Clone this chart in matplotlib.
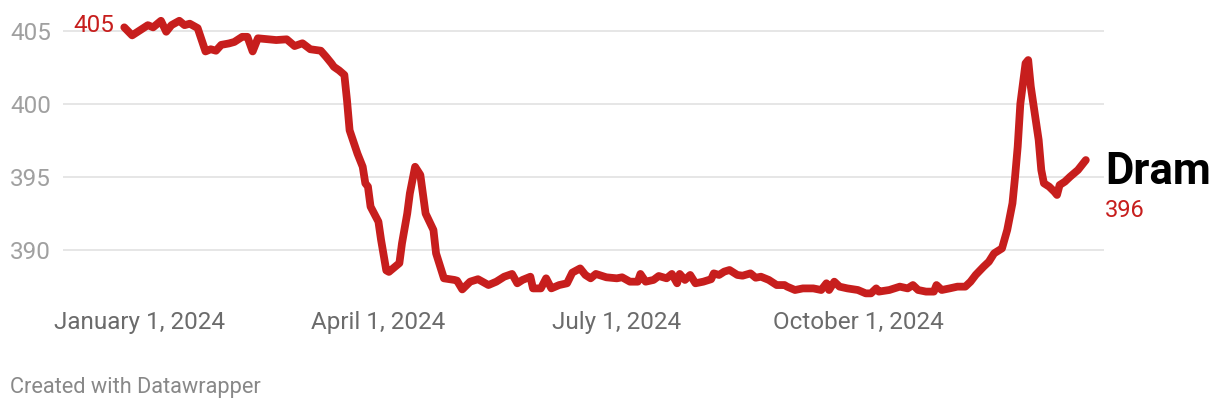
import matplotlib.pyplot as plt
import pandas as pd

# Dram exchange rate readings (date, value)
dates = [
    "2023-12-26", "2023-12-29", "2024-01-04", "2024-01-06", "2024-01-09", "2024-01-11",
    "2024-01-13", "2024-01-16", "2024-01-18", "2024-01-20", "2024-01-23", "2024-01-26",
    "2024-01-28", "2024-01-30", "2024-02-01", "2024-02-04", "2024-02-06", "2024-02-09",
    "2024-02-11", "2024-02-13", "2024-02-15", "2024-02-19", "2024-02-22", "2024-02-26",
    "2024-02-29", "2024-03-03", "2024-03-06", "2024-03-10", "2024-03-12", "2024-03-14",
    "2024-03-15", "2024-03-17", "2024-03-19", "2024-03-20", "2024-03-21", "2024-03-24",
    "2024-03-26", "2024-03-27", "2024-03-28", "2024-03-29", "2024-04-01", "2024-04-02",
    "2024-04-04", "2024-04-05", "2024-04-09", "2024-04-10", "2024-04-12", "2024-04-13",
    "2024-04-15", "2024-04-17", "2024-04-19", "2024-04-22", "2024-04-23", "2024-04-26",
    "2024-04-30", "2024-05-01", "2024-05-03", "2024-05-06", "2024-05-09", "2024-05-13",
    "2024-05-16", "2024-05-19", "2024-05-22", "2024-05-24", "2024-05-26", "2024-05-29",
    "2024-05-30", "2024-06-02", "2024-06-04", "2024-06-06", "2024-06-09", "2024-06-12",
    "2024-06-14", "2024-06-17", "2024-06-19", "2024-06-21", "2024-06-23", "2024-06-27",
    "2024-07-01", "2024-07-03", "2024-07-06", "2024-07-09", "2024-07-10", "2024-07-12",
    "2024-07-15", "2024-07-17", "2024-07-20", "2024-07-22", "2024-07-24", "2024-07-25",
    "2024-07-27", "2024-07-29", "2024-07-31", "2024-08-03", "2024-08-06", "2024-08-07",
    "2024-08-09", "2024-08-11", "2024-08-13", "2024-08-16", "2024-08-18", "2024-08-21",
    "2024-08-23", "2024-08-25", "2024-08-28", "2024-08-31", "2024-09-03", "2024-09-04",
    "2024-09-07", "2024-09-10", "2024-09-14", "2024-09-17", "2024-09-19", "2024-09-20",
    "2024-09-22", "2024-09-24", "2024-09-27", "2024-10-01", "2024-10-04", "2024-10-06",
    "2024-10-08", "2024-10-09", "2024-10-13", "2024-10-17", "2024-10-20", "2024-10-22",
    "2024-10-24", "2024-10-27", "2024-10-30", "2024-10-31", "2024-11-02", "2024-11-05",
    "2024-11-08", "2024-11-11", "2024-11-13", "2024-11-15", "2024-11-18", "2024-11-20",
    "2024-11-22", "2024-11-25", "2024-11-27", "2024-11-29", "2024-11-30", "2024-12-01",
    "2024-12-02", "2024-12-04", "2024-12-05", "2024-12-06", "2024-12-09", "2024-12-10",
    "2024-12-11", "2024-12-13", "2024-12-15", "2024-12-16", "2024-12-17", "2024-12-19",
    "2024-12-21", "2024-12-24", "2024-12-27",
]
values = [
    405.25, 404.7, 405.4, 405.25, 405.7, 404.95,
    405.4, 405.7, 405.4, 405.5, 405.2, 403.6,
    403.75, 403.65, 404.05, 404.15, 404.25, 404.6,
    404.6, 403.6, 404.5, 404.43, 404.38, 404.43,
    403.97, 404.16, 403.75, 403.65, 403.24, 402.8,
    402.55, 402.3, 401.99, 400.27, 398.2, 396.6,
    395.7, 394.57, 394.34, 392.97, 391.94, 390.7,
    388.6, 388.5, 389.1, 390.46, 392.5, 393.88,
    395.7, 395.14, 392.5, 391.37, 389.77, 388.06,
    387.95, 387.9, 387.3, 387.83, 388.0, 387.6,
    387.83, 388.17, 388.36, 387.72, 387.95, 388.17,
    387.37, 387.37, 388.06, 387.37, 387.6, 387.72,
    388.45, 388.74, 388.29, 388.06, 388.36, 388.13,
    388.06, 388.13, 387.83, 387.83, 388.36, 387.83,
    387.95, 388.22, 388.06, 388.36, 387.72, 388.36,
    387.95, 388.29, 387.72, 387.83, 388.0, 388.4,
    388.29, 388.52, 388.63, 388.29, 388.24, 388.4,
    388.1, 388.17, 387.95, 387.6, 387.6, 387.49,
    387.26, 387.37, 387.37, 387.26, 387.72, 387.26,
    387.83, 387.49, 387.37, 387.26, 387.03, 387.03,
    387.37, 387.15, 387.26, 387.49, 387.37, 387.6,
    387.26, 387.15, 387.15, 387.6, 387.26, 387.37,
    387.49, 387.49, 387.83, 388.3, 388.86, 389.2,
    389.77, 390.11, 391.37, 393.2, 395.02, 397.08,
    400.0, 402.79, 403.01, 401.19, 397.54, 395.48,
    394.57, 394.34, 393.99, 393.77, 394.45, 394.68,
    395.02, 395.48, 396.16,
]
y_ticks = [390, 395, 400, 405]
x_ticks = ["2024-01-01", "2024-04-01", "2024-07-01", "2024-10-01"]
x_tick_labels = ["January 1, 2024", "April 1, 2024", "July 1, 2024", "October 1, 2024"]

plt.rcParams['font.family'] = ['Roboto', 'DejaVu Sans']
red = '#c71e1d'

d = pd.to_datetime(dates)

fig = plt.figure(figsize=(12.2, 4.12), dpi=100)
W, H = 1220, 412
ax = fig.add_axes([63 / W, 1 - 300 / H, (1104 - 63) / W, (300 - 10) / H])

ax.plot(d, values, color=red, lw=5.6, solid_capstyle='round', solid_joinstyle='round', zorder=3)

jan1 = pd.Timestamp("2024-01-01")
px_per_day = 2.62
ax.set_xlim(jan1 + pd.Timedelta(days=(63 - 140) / px_per_day),
            jan1 + pd.Timedelta(days=(1104 - 140) / px_per_day))
ax.set_ylim(405 - (300 - 31) / 14.6, 405 + (31 - 10) / 14.6)

ax.set_yticks(y_ticks)
ax.set_yticklabels([str(v) for v in y_ticks], ha='left', color='#a0a0a0', fontsize=17.5)
ax.tick_params(axis='y', length=0, pad=38)
ax.grid(axis='y', color='#e2e2e2', lw=1.2, zorder=0)

ax.set_xticks(pd.to_datetime(x_ticks))
ax.set_xticklabels(x_tick_labels, color='#6b6b6b', fontsize=17.5)
ax.tick_params(axis='x', length=0, pad=8)

for s in ax.spines.values():
    s.set_visible(False)

ax.annotate(f"{values[0]:.0f}", (d[0], values[0]), xytext=(-7, 1), textcoords='offset points',
            ha='right', va='center', color=red, fontsize=17.5)
ax.annotate("Dram", (d[-1], values[-1]), xytext=(14, -8.5), textcoords='offset points',
            ha='left', va='center', color='black', fontsize=31.5, fontweight='bold')
ax.annotate(f"{values[-1]:.0f}", (d[-1], values[-1]), xytext=(13.5, -36), textcoords='offset points',
            ha='left', va='center', color=red, fontsize=17, annotation_clip=False)

fig.text(10 / W, 1 - 387 / H, "Created with Datawrapper", ha='left', va='center',
         color='#888888', fontsize=15.7)

fig.savefig("out.png", dpi=100)
